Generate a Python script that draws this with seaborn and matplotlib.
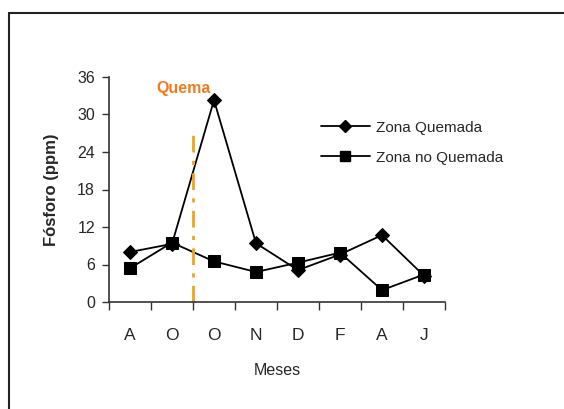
import matplotlib
matplotlib.use("Agg")
import matplotlib.pyplot as plt
import seaborn as sns
import pandas as pd
from matplotlib.lines import Line2D

months = ["A", "O", "O", "N", "D", "F", "A", "J"]
quemada = [8.0, 9.3, 32.3, 9.4, 5.1, 7.6, 10.7, 4.2]
no_quemada = [5.4, 9.5, 6.5, 4.8, 6.3, 7.9, 1.9, 4.4]
yticks = [0, 6, 12, 18, 24, 30, 36]
burn_pos = 1.5
burn_top = 28

sns.set_theme(style="white")
plt.rcParams["font.family"] = ["Liberation Sans", "DejaVu Sans"]

pos = list(range(len(months)))
df = pd.DataFrame({
    "pos": pos * 2,
    "val": quemada + no_quemada,
    "serie": ["Zona Quemada"] * len(pos) + ["Zona no Quemada"] * len(pos),
})

fig = plt.figure(figsize=(5.64, 4.09), dpi=100)
ax = fig.add_axes([109 / 564, 1 - 302 / 409, 336 / 564, 225 / 409])

sns.lineplot(data=df, x="pos", y="val", style="serie", hue="serie",
             palette=["black", "black"], markers={"Zona Quemada": "D", "Zona no Quemada": "s"},
             dashes=False, sort=False, ax=ax, legend=False, linewidth=1.3,
             markeredgecolor="black")
for ln, ms in zip(ax.lines, [7, 8]):
    ln.set_markersize(ms)

ax.axvline(burn_pos, ymin=0, ymax=burn_top / 36, color="#f5a21b", linestyle=(0, (6, 3, 1.5, 3)), linewidth=2)
ax.text(1.28, 33.0, "Quema", color="#f07c1e", fontsize=11.5, fontweight="bold", ha="center", va="bottom")

ax.set_xlim(-0.5, 7.5)
ax.set_ylim(0, 36)
ax.set_yticks(yticks)
ax.set_yticklabels([str(t) for t in yticks], fontsize=11.5)
ax.set_xticks(pos)
ax.set_xticklabels(months, fontsize=12.5)
ax.set_xticks([p - 0.5 for p in range(len(months) + 1)], minor=True)
ax.tick_params(axis="x", which="major", length=0, pad=19)
ax.tick_params(axis="x", which="minor", length=6, width=1, color="#333333", direction="out", bottom=True)
ax.tick_params(axis="y", length=5, width=1, color="#333333", direction="out", left=True, pad=5)
for s in ["top", "right"]:
    ax.spines[s].set_visible(False)
for s in ["left", "bottom"]:
    ax.spines[s].set_color("#333333")
    ax.spines[s].set_linewidth(1.2)

ax.set_xlabel("Meses", fontsize=11.5, labelpad=14)
ax.set_ylabel("Fósforo (ppm)", fontsize=12, fontweight="bold", labelpad=13)

handles = [
    Line2D([], [], color="black", marker="D", markersize=6, linewidth=1.3),
    Line2D([], [], color="black", marker="s", markersize=7, linewidth=1.3),
]
fig.legend(handles, ["Zona Quemada", "Zona no Quemada"], loc="upper left",
           bbox_to_anchor=(307 / 564, 1 - 107 / 409), frameon=False, fontsize=11,
           handlelength=3.2, handletextpad=0.4, labelspacing=1.05)

fig.add_artist(Line2D([8.5 / 564, 8.5 / 564], [0, 1 - 12.5 / 409], color="#222222", linewidth=1.5, transform=fig.transFigure))
fig.add_artist(Line2D([8.5 / 564, 1], [1 - 12.5 / 409, 1 - 12.5 / 409], color="#222222", linewidth=1.5, transform=fig.transFigure))

fig.savefig("out.png", dpi=100)
